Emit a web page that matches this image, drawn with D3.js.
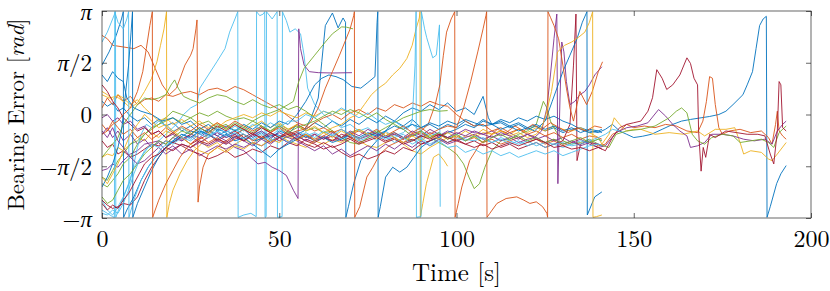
<!DOCTYPE html>
<html>
<head>
<meta charset="utf-8">
<script src="https://cdn.jsdelivr.net/npm/d3@7"></script>
<style>
  body { margin: 0; background: #fff; }
  svg text { font-family: "Latin Modern Roman", "CMU Serif", "Liberation Serif", serif; fill: #000; }
</style>
</head>
<body>
<script>
// Bearing error of every run, [time s, error rad]. Wraps at +-pi show as vertical jumps.
const run00 = [[0,0.4],[1.5,0.25],[3,0.35],[4.5,0.1],[6,0.2],[8,-0.05],[10,-0.2],[12,-0.1],[14,-0.3],[16,-0.15],[18,-0.35],[20,-0.25],[22.5,-0.5],[25,-0.35],[27.5,-0.55],[30,-0.45],[32.5,-0.65],[35,-0.5],[37.5,-0.6],[40,-0.45],[42.5,-0.7],[45,-0.55],[47.5,-0.75],[50,-0.5],[52.5,-0.6],[55,-0.3],[57.5,-0.45],[60,-0.25],[62.5,-0.4],[65,-0.2],[67.5,-0.35],[70,-0.15],[72.5,-0.3],[75,-0.1],[77.5,-0.25],[80,-0.05],[82.5,-0.2],[85,-0.35],[87.5,-0.15],[90,-0.4],[92.5,-0.3],[95,-0.45],[97.5,-0.3],[100,-0.4],[102.5,-0.2],[105,-0.35],[107.5,-0.15],[110,-0.3],[112.5,-0.25],[115,-0.4],[117.5,-0.3],[120,-0.45],[122.5,-0.35],[125,-0.5],[127.5,-0.4],[130,-0.55],[132.5,-0.45],[135,-0.4],[137.5,-0.5],[140,-0.55],[142,-0.45],[144,-0.3],[146,-0.5],[148,-0.6],[150,-0.7],[152.5,-0.66],[155,-0.6],[158,-0.45],[161,-0.3],[163.5,-0.2],[166,-0.15],[169,-0.1],[171.4,-0.06],[174,0.0],[176,0.1],[178,0.3],[180.8,0.6],[182,0.9],[183.5,1.3],[184.5,2.0],[185.5,2.7],[186.5,2.9],[187.4,2.98],[187.6,-3.12],[188.5,-2.8],[190.3,-2.1],[191.5,-1.8],[193,-1.55]];
const run01 = [[0,0.2],[1.5,0.5],[3,0.3],[4.5,0.6],[6,0.4],[8,0.55],[10,0.3],[12,0.45],[14,0.5],[16,0.4],[18,0.6],[20,0.55],[22.5,0.65],[25,0.7],[27.5,0.6],[30,0.75],[32.5,0.8],[35,0.7],[37.5,0.85],[40,0.75],[42.5,0.6],[45,0.45],[47.5,0.3],[50,0.15],[52.5,-0.05],[55,-0.25],[57.5,-0.35],[60,-0.5],[62.5,-0.4],[65,-0.55],[67.5,-0.45],[70,-0.6],[72.5,-0.5],[75,-0.65],[77.5,-0.55],[80,-0.7],[82.5,-0.6],[85,-0.75],[87.5,-0.65],[90,-0.55],[92.5,-0.7],[95,-0.6],[97.5,-0.75],[100,-0.65],[102.5,-0.8],[105,-0.7],[107.5,-0.85],[110,-0.75],[112.5,-0.9],[115,-0.8],[117.5,-0.7],[120,-0.85],[122.5,-0.75],[125,-0.9],[127.5,-0.8],[130,-0.95],[132.5,-0.85],[135,-0.9],[137.5,-0.8],[140,-0.95],[142,-0.9],[144,-0.6],[146,-0.5],[148,-0.3],[150,-0.4],[153,-0.35],[156,-0.4],[159,-0.3],[162,-0.35],[165,-0.5],[168,-0.55],[169.5,-0.2],[170.5,0.4],[171.4,1.15],[172.2,1.1],[173,0.3],[174,-0.4],[175,-0.6],[177,-0.5],[180,-0.45],[183,-0.55],[186,-0.5],[188,-0.7],[189,-0.9],[190,-0.3],[190.5,0.1],[191,-0.5],[192,-0.65],[193,-0.75]];
const run02 = [[0,-1.3],[1.5,-1.2],[3,-1.25],[4.5,-1.0],[6,-1.1],[8,-0.9],[10,-0.7],[12,-0.8],[14,-0.55],[16,-0.7],[18,-0.5],[20,-0.6],[22.5,-0.4],[25,-0.55],[27.5,-0.8],[30,-1.0],[32.5,-0.85],[35,-1.1],[37.5,-0.9],[40,-0.75],[42.5,-0.9],[45,-0.7],[47.5,-0.85],[50,-0.65],[52.5,-0.8],[55,-0.9],[57.5,-1.0],[60,-0.8],[62.5,-0.9],[65,-0.75],[67.5,-0.85],[70,-0.7],[72.5,-0.8],[75,-0.95],[77.5,-1.0],[80,-0.85],[82.5,-0.7],[85,-0.9],[87.5,-1.1],[90,-1.2],[92.5,-1.0],[95,-0.85],[97.5,-0.7],[100,-0.8],[102.5,-0.65],[105,-0.7],[107.5,-0.55],[110,-0.6],[112.5,-0.5],[115,-0.6],[117.5,-0.45],[120,-0.55],[122.5,-0.4],[125,-0.5],[127.5,-0.35],[130,-0.45],[132.5,-0.5],[135,-0.4],[137.5,-0.55],[140,-0.7],[141,-0.9],[143,-0.6],[144.5,-0.1],[146,-0.3],[148,-0.5],[150,-0.45],[152,-0.45],[156,-0.6],[160,-0.55],[164,-0.6],[168,-0.5],[170,-0.65],[173,-0.45],[176,-0.45],[178.5,-0.4],[180,-0.85],[181,-1.2],[183,-1.1],[186,-1.15],[188,-1.35],[189,-1.4],[190.5,-1.2],[193,-0.85]];
const run03 = [[0,-0.6],[1.5,-0.4],[3,-0.7],[4.5,-0.5],[6,-0.8],[8,-0.6],[10,-0.9],[12,-0.75],[14,-1.0],[16,-0.85],[18,-1.1],[20,-0.95],[22.5,-1.2],[25,-1.05],[27.5,-1.25],[30,-1.1],[32.5,-0.95],[35,-1.05],[37.5,-0.9],[40,-1.0],[42.5,-0.85],[45,-0.95],[47.5,-0.8],[50,-0.7],[52.5,-0.85],[55,-0.7],[57.5,-0.6],[60,-0.75],[62.5,-0.65],[65,-0.8],[67.5,-0.7],[70,-0.6],[72.5,-0.75],[75,-0.65],[77.5,-0.55],[80,-0.7],[82.5,-0.6],[85,-0.75],[87.5,-0.6],[90,-0.7],[92.5,-0.55],[95,-0.65],[97.5,-0.5],[100,-0.6],[102.5,-0.45],[105,-0.55],[107.5,-0.6],[110,-0.5],[112.5,-0.65],[115,-0.55],[117.5,-0.7],[120,-0.6],[122.5,-0.75],[125,-0.65],[127.5,-0.8],[130,-0.7],[132.5,-0.85],[135,-0.75],[137.5,-0.9],[140,-1.0],[142,-0.95],[145,-0.55],[148,-0.4],[151,-0.35],[154,-0.25],[157,0.15],[159,-0.05],[161,-0.3],[163,-0.5],[165,-0.65],[166,-1.0],[168,-0.95],[170,-0.85],[172,-0.6],[175,-0.6],[178,-0.65],[181,-0.75],[184,-0.8],[187,-0.75],[189,-0.9],[190.5,-0.5],[192,-0.3],[193,-0.2]];
const run04 = [[0,-1.9],[1.5,-2.0],[3,-1.7],[4.5,-1.4],[6,-1.2],[8,-0.9],[10,-0.8],[12,-0.6],[14,-0.45],[16,-0.3],[18,-0.2],[20,-0.1],[22.5,-0.25],[25,-0.1],[27.5,-0.3],[30,-0.2],[32.5,-0.4],[35,-0.3],[37.5,-0.5],[40,-0.4],[42.5,-0.55],[45,-0.35],[47.5,-0.5],[50,-0.3],[52.5,-0.45],[55,-0.35],[57.5,-0.5],[60,-0.4],[62.5,-0.55],[65,-0.5],[67.5,-0.7],[70,-0.55],[72.5,-0.45],[75,-0.6],[77.5,-0.5],[80,-0.65],[82.5,-0.55],[85,-0.7],[87.5,-0.8],[90,-0.65],[92.5,-0.7],[95,-0.85],[97.5,-1.0],[100,-1.2],[102,-1.5],[103.5,-1.9],[105,-2.25],[106.5,-2.1],[108,-1.6],[110,-1.1],[112.5,-0.8],[115,-0.75],[117.5,-0.6],[120,-0.5],[122.5,-0.3],[124.5,0.4],[125.5,0.2],[126.5,-0.2],[128,-0.5],[130,-0.8],[132.5,-0.9],[135,-0.85],[137.5,-0.75],[140,-0.9],[143,-1.0],[145,-0.6],[148,-0.5],[152,-0.45],[156,-0.35],[160,-0.1],[162,0.1],[163.5,0.2],[165,0.05],[166.5,-0.6],[168,-0.8],[170,-0.9],[172,-0.7],[175,-0.6],[178,-0.65],[180,-0.85],[183,-0.8],[186,-0.75],[188,-0.85],[189.5,-1.0],[191,-0.55],[193,-0.35]];
const run05 = [[0,-2.6],[1.5,-2.9],[3,-3.05],[4.5,-2.8],[6,-2.5],[7.5,-2.1],[9,-1.6],[11,-1.3],[13,-1.0],[15,-0.9],[17,-0.7],[19,-0.5],[21,-0.3],[23,0.0],[25,0.2],[26.8,0.3],[27.6,0.8],[30,1.2],[32.4,1.6],[34.7,2.0],[36,2.5],[37.5,2.9],[38.3,3.12],[38.4,-3.12],[40,-3.05],[42,-3.0],[43.5,-3.1],[43.6,3.12],[44.5,3.0],[45.5,3.05],[45.9,3.12],[46,-3.12],[46.3,-3.1],[46.4,3.12],[48,2.9],[49.4,3.12],[49.5,-3.12],[50.8,-3.1],[50.9,3.12],[52,2.85],[53,2.5],[54.5,2.6],[56,2.45],[57,1.8],[58,0.8],[60,0.3],[62.5,0.0],[65,-0.2],[67.5,-0.4],[70,-0.3],[72.5,-0.5],[75,-0.4],[77.5,-0.6],[80,-0.5],[82.5,-0.7],[85,-0.6],[87.5,-0.8],[90,-0.7],[92.5,-0.9],[95,-0.75],[97.5,-0.85],[100,-0.7],[102.5,-0.8],[105,-0.65],[107.5,-0.75],[110,-0.85],[112.5,-0.7],[115,-0.8],[117.5,-0.9],[120,-0.8],[122.5,-0.95],[125,-0.85],[127.5,-0.9],[130,-1.0],[132.5,-0.9],[135,-0.8],[137.5,-0.85],[140,-0.75],[141,-0.8]];
const run06 = [[0,-0.8],[1.5,-1.0],[3,-0.9],[4.5,-1.2],[6,-1.1],[8,-1.3],[10,-1.2],[12,-1.05],[14,-0.9],[16,-0.95],[18,-0.8],[20,-0.85],[22.5,-0.7],[25,-0.9],[27.5,-0.75],[30,-0.6],[32.5,-0.8],[35,-0.65],[37.5,-0.5],[40,-0.7],[42.5,-0.55],[45,-0.75],[47.5,-0.6],[50,-0.8],[52.5,-0.65],[55,-0.55],[57.5,-0.7],[60,-0.6],[62.5,-0.75],[65,-0.65],[67.5,-0.8],[70,-0.7],[72.5,-0.85],[75,-0.75],[77.5,-0.65],[80,-0.8],[82.5,-0.7],[85,-0.85],[87.5,-0.75],[90,-0.9],[92.5,-0.8],[95,-0.7],[97.5,-0.85],[100,-0.75],[102.5,-0.9],[105,-0.8],[107.5,-0.95],[110,-0.85],[112.5,-1.0],[115,-0.9],[117.5,-1.05],[120,-0.95],[122.5,-0.85],[125,-1.0],[127.5,-0.9],[130,-0.8],[132,-0.3],[133,1.5],[133.7,3.05],[134,-1.4],[135,-0.9],[137,-0.8],[139,-0.95],[140,-1.0],[142,-1.1],[144,-0.7],[146,-0.4],[148,-0.3],[150,-0.25],[152,-0.2],[154,0.1],[155.3,0.51],[156.5,1.36],[158,1.1],[159.3,0.76],[161,0.9],[163,1.2],[165,1.72],[166,1.55],[167,1.1],[168,0.9],[168.3,-0.5],[169,-1.72],[169.6,-1.0],[170.3,-1.3],[171.4,-0.6],[173,-0.7],[176,-0.5],[179,-0.55],[182,-0.6],[185,-0.6],[187,-0.65],[188.5,-1.2],[189.5,-1.5],[190.5,-0.5],[191,1.0],[191.5,0.9],[192,-0.4],[193,-0.5]];
const run07 = [[0,1.5],[2,1.9],[4,2.4],[5.5,2.9],[6,3.12],[6.1,-3.12],[7,-2.9],[9,-2.5],[11,-2.0],[13,-1.6],[15,-1.3],[17,-1.1],[19,-0.9],[22,-0.7],[25,-0.5],[28,-0.6],[31,-0.4],[34,-0.5],[37,-0.7],[40,-0.6],[43,-0.8],[46,-0.7],[49,-0.6],[52,-0.7],[55,-0.6],[57,-0.5],[59,-0.1],[61,0.5],[62,1.6],[63,2.7],[65,3.08],[66.6,2.63],[68,2.93],[68.7,2.8],[68.8,-3.12],[69.5,-2.8],[71,-2.1],[73,-1.4],[75,-1.1],[77.5,-0.8],[80,-0.5],[82.5,-0.2],[85,0.05],[87.5,0.2],[90,0.1],[92.5,0.3],[95,0.15],[97.5,0.35],[100,0.1],[102.5,0.2],[105,0.0],[107.5,0.55],[109,-0.1],[110,-0.3],[112.5,-0.2],[115,-0.35],[117.5,-0.25],[120,-0.4],[122.5,-0.3],[125,-0.45],[127.5,-0.35],[130,-0.5],[132.5,-0.4],[135,-0.55],[137.5,-0.45],[140,-0.5],[141,-0.55]];
const run08 = [[0,2.4],[1.5,2.3],[3,2.1],[6,2.05],[9,2.0],[11,2.1],[13,1.9],[15,1.4],[17,0.9],[19,0.6],[21,0.8],[23.4,1.5],[25,1.8],[25.7,2.0],[26.5,2.6],[26.8,2.87],[27.1,-2.66],[27.5,-2.2],[28.5,-1.6],[30,-1.2],[32.5,-1.0],[35,-0.8],[37.5,-0.6],[40,-0.45],[42.5,-0.6],[45,-0.4],[47.5,-0.55],[50,-0.35],[52.5,-0.5],[55,-0.3],[57.5,-0.45],[60,-0.25],[62.5,-0.1],[65,0.0],[67.5,-0.15],[70,0.05],[72.5,0.15],[75,0.0],[77.5,0.2],[80,0.1],[82.5,0.3],[85,0.2],[87.5,0.35],[90,0.25],[92.5,0.4],[95,0.3],[97.5,0.25],[100,0.0],[102.5,-0.2],[105,-0.35],[107.5,-0.3],[110,-0.5],[112.5,-0.4],[115,-0.55],[117.5,-0.45],[120,-0.6],[122.5,-0.5],[125,-0.65],[127.5,-0.55],[130,-0.7],[132.5,-0.6],[135,-0.75],[137.5,-0.65],[140,-0.7],[141,-0.75]];
const run09 = [[0,0.7],[1.5,0.6],[3,0.45],[4.5,0.6],[6,0.5],[8,0.3],[10,0.45],[12,0.2],[14,0.0],[16,-0.2],[18,-0.1],[20,-0.3],[22.5,-0.15],[25,-0.35],[27.5,-0.2],[30,-0.4],[32.5,-0.25],[35,-0.45],[37.5,-0.3],[40,-0.5],[42.5,-0.35],[45,-0.2],[47.5,-0.4],[50,-0.25],[52.5,-0.45],[55,-0.3],[57.5,-0.5],[60,-0.35],[62.5,-0.55],[65,-0.4],[67.5,-0.3],[70,-0.1],[72,0.0],[74,0.3],[76,0.6],[78,0.8],[80,0.95],[82,1.2],[84,1.4],[86,1.7],[87.5,2.1],[88.6,2.6],[89.5,2.93],[89.7,3.12],[89.8,-3.12],[90.5,-2.7],[91.5,-2.1],[93.5,-1.3],[95,-1.2],[96.5,-1.4],[97.5,-1.57]];
const run10 = [[0,-1.7],[1.5,-1.65],[3,-1.5],[4.5,-1.6],[6,-1.4],[8,-1.2],[10,-1.1],[12,-0.9],[14,-0.85],[16,-0.8],[18,-0.9],[20,-0.7],[22.5,-0.8],[25,-0.6],[27.5,-0.7],[30,-0.5],[32.5,-0.65],[35,-0.8],[37.5,-1.0],[40,-1.1],[42,-1.3],[44,-1.5],[46,-1.45],[48,-1.6],[50,-1.7],[52,-1.85],[54,-2.3],[55.3,-2.55],[55.5,2.6],[56,2.0],[57,1.5],[58.5,1.3],[61,1.27],[65,1.26],[70.5,1.27]];
const run11 = [[0,-2.1],[1.5,-2.2],[3,-2.0],[4.5,-1.8],[6,-1.5],[8,-1.3],[10,-0.9],[12,-0.6],[14,-0.4],[16,-0.3],[18,-0.1],[20,0.1],[22.5,0.0],[25,-0.1],[27.5,0.05],[30,-0.05],[32.5,0.1],[35,-0.05],[37.5,-0.15],[40,-0.1],[42.5,-0.2],[45,-0.05],[47.5,0.05],[50,0.15],[52.5,0.3],[54,0.4],[55.5,1.0],[57,1.4],[60,1.8],[63,2.2],[65,2.45],[67.6,2.66],[69,2.65],[70.8,2.6]];
const run12 = [[0,2.2],[1.5,2.5],[3,2.9],[3.8,3.12],[3.9,-3.12],[5,-2.8],[6.5,-2.4],[8,-2.0],[9,-1.5],[10,-1.0],[11,-0.6],[12.5,-0.3],[14,-0.4],[16,-0.2],[18,-0.35],[20,-0.5],[22.5,-0.4],[25,-0.6],[27.5,-0.45],[30,-0.65],[32.5,-0.5],[35,-0.7],[37.5,-0.55],[40,-0.75],[42.5,-0.6],[45,-0.5],[47.5,-0.65],[50,-0.45],[52.5,-0.6],[55,-0.5],[57.5,-0.65],[60,-0.55],[62.5,-0.7],[65,-0.6],[67.5,-0.75],[70,-0.65],[72.5,-0.8],[75,-0.7],[77.5,-0.6],[80,-0.75],[82.5,-0.65],[85,-0.55],[86.5,-0.4],[87.5,-0.2],[88.3,1.5],[88.6,3.12],[88.7,-3.12],[90,-3.1],[90.1,3.12],[91,2.6],[91.6,2.33],[93.3,1.72],[94.3,1.8],[95.2,2.72],[95.4,-2.8]];
const run13 = [[0,-2.6],[1.5,-2.75],[3,-2.85],[4.5,-2.8],[6,-2.7],[8,-2.75],[10,-2.5],[12,-2.0],[14,-1.6],[16,-1.3],[18,-1.0],[20,-0.85],[22.5,-0.95],[25,-1.1],[27.5,-1.2],[30,-1.35],[32.5,-1.25],[35,-1.1],[37.5,-1.3],[40,-1.2],[42.5,-1.05],[45,-1.15],[47.5,-0.95],[50,-1.05],[52.5,-0.85],[55,-0.95],[57.5,-0.75],[60,-0.85],[62.5,-0.7],[65,-0.8],[67.5,-0.6],[70.7,-0.7]];
const run14 = [[0,1.2],[1.5,1.0],[3,1.3],[4.5,1.1],[6,1.0],[7,0.5],[9,0.2],[11,0.1],[14,0.0],[17,-0.2],[20,-0.1],[22.5,-0.3],[25,-0.2],[27.5,-0.45],[30,-0.3],[32.5,-0.5],[35,-0.35],[37.5,-0.5],[40,-0.3],[42.5,-0.45],[45,-0.25],[47.5,-0.4],[50,-0.2],[52.5,-0.3],[55,0.0],[57.5,0.4],[60,0.9],[62,1.1],[64,1.2],[66,1.15],[68,1.06],[70.5,0.85],[73,0.8],[75,0.97],[77,1.15],[77.6,2.8],[77.8,3.12],[77.9,-3.12],[78.5,-2.8],[80,-1.9],[82,-1.6],[84,-1.75],[86,-1.6],[88,-1.3],[90,-1.0],[92.5,-0.8],[95,-0.7],[97.5,-0.55],[100,-0.45],[102.5,-0.3],[105,-0.4],[107.5,-0.2],[110,-0.3],[112.5,-0.15],[115,-0.25],[117.5,-0.1],[120,-0.2],[122.5,-0.05],[125,-0.15],[127.5,-0.05],[130,-0.2],[132.5,-0.3],[135,-0.45],[137.5,-0.55],[140,-0.5],[141,-0.45]];
const run15 = [[0,-0.3],[1.5,-0.5],[3,-0.2],[4.5,-0.4],[6,-0.6],[8,-0.45],[10,-0.7],[12,-0.55],[14,-0.75],[16,-0.6],[18,-0.4],[20,-0.55],[22.5,-0.35],[25,-0.5],[27.5,-0.3],[30,-0.45],[32.5,-0.25],[35,-0.4],[37.5,-0.2],[40,-0.35],[42.5,-0.5],[45,-0.35],[47.5,-0.55],[50,-0.4],[52.5,-0.6],[55,-0.5],[57,-0.45],[59,-0.2],[61,0.2],[63,0.8],[65,1.3],[67,1.8],[68.5,2.2],[70,2.6],[71,3.0],[71.2,3.12],[71.3,-3.12],[72.7,-2.8],[74.7,-1.9],[76.4,-1.6],[78.4,-1.2],[81,-0.95],[84,-0.8],[87,-0.6],[90,-0.5],[92,-0.3],[94,0.3],[95.3,0.9],[96.3,1.8],[97.2,2.5],[98.5,2.9],[99.5,3.12],[99.6,-3.12],[100.5,-2.7],[101.5,-2.2],[103.7,-1.4],[106.6,-0.9],[109,-0.7],[111.5,-0.45],[114,-0.55],[116.5,-0.35],[119,-0.5],[121.5,-0.3],[124,-0.45],[126.5,-0.25],[129,-0.4],[131.5,-0.55],[134,-0.4],[136.5,-0.5],[139,-0.35],[141,-0.4]];
const run16 = [[0,0.6],[2,0.5],[4,0.55],[6,0.4],[8,0.2],[10,0.35],[12,0.7],[14,1.1],[15.5,1.6],[16.5,2.1],[17.5,2.6],[18.2,3.12],[18.3,-3.12],[19,-2.7],[20,-2.3],[22,-1.8],[24,-1.4],[26,-1.1],[28,-0.9],[30,-0.6],[32.5,-0.4],[35,-0.2],[37.5,-0.1],[40,0.0],[42.5,-0.1],[45,0.05],[47.5,-0.05],[50,0.1],[52.5,0.0],[55,-0.1],[57.5,0.05],[60,-0.05],[62.5,0.1],[65,0.0],[67.5,0.15],[70.7,0.05]];
const run17 = [[0,-0.1],[1.5,0.0],[3,-0.2],[4.5,-0.1],[6,-0.3],[8,-0.2],[10,-0.45],[12,-0.35],[14,-0.6],[16,-0.5],[18,-0.7],[20,-0.6],[22.5,-0.8],[25,-0.65],[27.5,-0.85],[30,-0.7],[32.5,-0.55],[35,-0.7],[37.5,-0.6],[40,-0.8],[42.5,-0.65],[45,-0.5],[47.5,-0.7],[50,-0.55],[52.5,-0.7],[55,-0.8],[57.5,-0.95],[60,-1.1],[62.5,-0.95],[65,-1.2],[67.5,-1.05],[70,-1.25],[72.5,-1.1],[75,-0.95],[77.5,-1.1],[80,-0.9],[82.5,-1.05],[85,-0.85],[87.5,-1.0],[90,-0.8],[92.5,-0.95],[95,-0.75],[97.5,-0.9],[100,-0.8],[102.5,-0.7],[105,-0.6],[107.5,-0.75],[110,-0.65],[112.5,-0.8],[115,-0.7],[117.5,-0.85],[120,-0.75],[122,-0.7],[124,-0.5],[125.5,0.2],[126.5,1.2],[127.5,2.3],[128.3,3.05],[128.6,-2.1],[129.2,0.5],[129.7,2.2],[130.3,1.9],[131,1.0],[132,0.3],[133.4,0.4],[134.8,0.6],[136.2,0.7],[137.5,0.9],[139,1.2],[141,1.45]];
const run18 = [[0,-1.3],[1.5,-1.1],[3,-0.9],[4.5,-0.7],[6,-0.3],[8,0.0],[10,0.3],[12,0.5],[14,0.45],[16,0.5],[18,0.6],[19.5,0.9],[20.5,1.05],[21.5,0.8],[23,0.55],[25,0.45],[27.5,0.35],[30,0.5],[32.5,0.6],[35,0.55],[37.5,0.4],[40,0.3],[42.5,0.45],[45,0.3],[47.5,0.2],[50,0.3],[52.5,0.15],[55,0.25],[57.5,0.1],[60,-0.1],[62.5,-0.3],[65,-0.5],[67.5,-0.7],[70,-0.85],[72.5,-0.9],[75,-0.7],[77.5,-0.55],[80,-0.4],[82.5,-0.25],[85,-0.1],[87.5,0.0],[90,0.1],[92.5,0.15],[95,0.1],[97.5,0.12]];
const run19 = [[0,-2.9],[1.5,-3.0],[3,-3.1],[3.5,-3.12],[3.6,3.12],[4.5,2.8],[6,2.6],[7,2.9],[7.5,3.12],[7.6,-3.12],[9,-2.6],[11,-2.0],[13,-1.6],[15,-1.3],[17,-1.0],[20,-0.8],[22.5,-0.6],[25,-0.75],[27.5,-0.5],[30,-0.65],[32.5,-0.4],[35,-0.55],[37.5,-0.35],[40,-0.5],[42.5,-0.3],[45,-0.45],[47.5,-0.25],[50,-0.4],[52.5,-0.2],[55,-0.2],[57.5,0.0],[60,-0.1],[62.5,0.1],[65,0.0],[67.5,0.2],[70,0.05],[72.5,-0.1],[75,0.05],[77.5,-0.15],[80,-0.3],[82.5,-0.2],[85,-0.4],[87.5,-0.3],[90,-0.5],[92.5,-0.65],[95,-0.55],[97.5,-0.7],[100,-0.6],[102.5,-0.75],[105,-0.8],[107.5,-0.7],[110,-0.85],[112.5,-0.75],[115,-0.9],[117.5,-0.8],[120,-0.95],[122.5,-0.85],[125,-1.0],[127.5,-0.9],[130,-0.85],[132.5,-0.95],[135,-0.9],[137.5,-0.8],[140,-0.7],[142,-0.6],[144,-0.45],[146,-0.5]];
const run20 = [[0,0.9],[1.5,0.7],[3,0.4],[4.5,0.2],[6,-0.1],[8,-0.3],[10,-0.5],[12,-0.4],[14,-0.6],[16,-0.5],[18,-0.7],[20,-0.55],[22.5,-0.75],[25,-0.6],[27.5,-0.4],[30,-0.55],[32.5,-0.35],[35,-0.5],[37.5,-0.3],[40,-0.45],[42.5,-0.6],[45,-0.4],[47.5,-0.55],[50,-0.7],[52.5,-0.5],[55,-0.65],[57.5,-0.8],[60,-0.9],[62.5,-1.05],[65,-0.95],[67.5,-1.15],[70,-1.3],[72.5,-1.2],[75,-1.35],[77.5,-1.25],[80,-1.1],[82.5,-1.2],[85,-1.0],[87.5,-1.1],[90,-0.9],[92.5,-0.8],[95,-0.65],[97.5,-0.55]];
const run21 = [[0,-2.2],[1.5,-1.9],[3,-1.5],[4.5,-1.0],[5.5,-0.5],[6.5,0.5],[7.5,1.5],[8.2,2.5],[8.6,3.12],[8.7,-3.12],[10,-2.7],[12,-2.2],[14,-1.7],[16,-1.3],[18,-1.0],[20,-0.8],[22.5,-0.6],[25,-0.7],[27.5,-0.5],[30,-0.6],[32.5,-0.75],[35,-0.6],[37.5,-0.8],[40,-0.7],[42.5,-0.9],[45,-1.1],[47.5,-1.3],[50,-1.05],[52.5,-0.9],[55,-0.75],[57.5,-0.65],[60,-0.8],[62.5,-0.7],[65,-0.85],[67.5,-0.75],[70,-0.6],[72.5,-0.7],[75,-0.55],[77.5,-0.65],[80,-0.5],[82.5,-0.35],[85,-0.45],[87.5,-0.3],[90,-0.4],[92.5,-0.25],[95,-0.35],[97.5,-0.2],[100,-0.3],[102.5,-0.15],[105,-0.25],[107.5,-0.35],[110,-0.3],[112.5,-0.45],[115,-0.35],[117.5,-0.5],[120,-0.4],[122,-0.5],[125,-0.2],[127,0.4],[130,1.3],[132,1.8],[134,2.3],[135.5,2.8],[136.8,3.12],[136.9,-3.05],[139,-2.5],[141,-2.35]];
const run22 = [[0,-0.6],[1.5,-0.5],[3,-0.3],[4.5,-0.2],[6,0.0],[8,0.2],[10,0.7],[11.5,1.3],[12.5,2.0],[13.5,2.7],[14.2,3.12],[14.3,-3.12],[15,-2.9],[16,-2.6],[18,-2.1],[20,-1.7],[22,-1.3],[24,-1.0],[26,-0.8],[28,-0.7],[30,-0.85],[32.5,-0.7],[35,-0.9],[37.5,-0.75],[40,-0.6],[42.5,-0.8],[45,-0.65],[47.5,-0.85],[50,-0.7],[52.5,-0.55],[55,-0.75],[57.5,-0.6],[60,-0.8],[62.5,-0.65],[65,-0.5],[67.5,-0.7],[70,-0.55],[72.5,-0.75],[75,-0.6],[77.5,-0.45],[80,-0.65],[82.5,-0.5],[85,-0.35],[87.5,-0.55],[90,-0.4],[92.5,-0.6],[95,-0.45],[97.5,-0.35],[100,-0.4],[102,0.2],[104,1.0],[106,1.9],[107.5,2.6],[108.3,3.0],[108.5,3.12],[108.6,-3.12],[109.4,-3.0],[111.4,-2.7],[114,-2.55],[117,-2.5],[119,-2.6],[120.7,-2.7],[122.5,-2.65],[124.3,-2.8],[125.5,-3.0],[125.7,-3.12],[125.8,3.12],[126.5,2.95],[127.5,2.7],[128.8,2.3],[130,1.5],[131,0.8],[132,0.2],[133,-0.2],[134,0.3],[134.8,0.7],[136.7,0.3],[138.3,0.7],[140,1.3],[141.2,1.6]];
const run23 = [[0,-1.9],[1.5,-2.1],[3,-1.8],[4.5,-1.5],[6,-1.1],[8,-0.6],[10,-0.3],[12,0.0],[14,-0.2],[16,-0.4],[18,-0.3],[20,-0.5],[22.5,-0.7],[25,-0.9],[27.5,-1.1],[30,-1.2],[32.5,-1.0],[35,-1.15],[37.5,-0.95],[40,-1.05],[42.5,-0.85],[45,-0.95],[47.5,-0.75],[50,-0.85],[52.5,-0.65],[55,-0.8],[57.5,-0.6],[60,-0.75],[62.5,-0.55],[65,-0.7],[67.5,-0.5],[70,-0.65],[72.5,-0.45],[75,-0.6],[77.5,-0.75],[80,-0.55],[82.5,-0.7],[85,-0.85],[87.5,-0.65],[90,-0.8],[92.5,-0.6],[95,-0.75],[97.5,-0.55],[100,-0.7],[102.5,-0.5],[105,-0.65],[107.5,-0.45],[110,-0.6],[112.5,-0.5],[115,-0.65],[117.5,-0.55],[120,-0.7],[122.5,-0.6],[124,-0.4],[125,-0.1],[126.8,0.7],[128.5,1.9],[130.5,2.1],[132.5,2.2],[134.5,2.35],[136.2,2.5],[137.5,2.8],[138.4,3.12],[138.5,-3.12],[139.5,-3.1],[141,-3.05]];
const run24 = [[0,-0.5],[1.5,-0.7],[3,-0.4],[4.5,-0.8],[6,-1.0],[8,-1.3],[10,-1.5],[12,-1.4],[14,-1.2],[16,-1.0],[18,-1.2],[20,-1.05],[22.5,-0.9],[25,-1.0],[27.5,-0.85],[30,-0.95],[32.5,-0.8],[35,-0.9],[37.5,-0.7],[40,-0.8],[42.5,-0.95],[45,-0.75],[47.5,-0.9],[50,-0.7],[52.5,-0.85],[55,-0.65],[57.5,-0.8],[60,-0.6],[62.5,-0.75],[65,-0.55],[67.5,-0.7],[70,-0.5],[72.5,-0.65],[75,-0.45],[77.5,-0.6],[80,-0.7],[82.5,-0.55],[85,-0.7],[87.5,-0.5],[90,-0.65],[92.5,-0.45],[95,-0.6],[97.5,-0.7],[100,-0.55],[102.5,-0.65],[105,-0.5],[107.5,-0.6],[110,-0.7],[112.5,-0.55],[115,-0.65],[117.5,-0.75],[120,-0.6],[122.5,-0.7],[125,-0.85],[127.5,-0.75],[130,-0.9],[132.5,-0.8],[135,-0.95],[137.5,-0.85],[140,-0.9],[141,-0.95]];
const run25 = [[0,-2.5],[1.5,-2.7],[3,-2.6],[4.5,-2.3],[6,-2.0],[8,-1.8],[10,-1.5],[12,-1.2],[14,-1.0],[16,-0.8],[18,-0.9],[20,-0.7],[22.5,-0.5],[25,-0.6],[27.5,-0.4],[30,-0.55],[32.5,-0.3],[35,-0.45],[37.5,-0.25],[40,-0.4],[42.5,-0.2],[45,-0.35],[47.5,-0.5],[50,-0.35],[52.5,-0.55],[55,-0.4],[57.5,-0.3],[60,-0.2],[62.5,-0.05],[65,0.1],[67.5,0.0],[70,0.15],[72.5,0.05],[75,-0.1],[77.5,0.05],[80,-0.15],[82.5,-0.3],[85,-0.45],[87.5,-0.65],[90,-0.5],[92.5,-0.7],[95,-0.55],[97.5,-0.75],[100,-0.6],[102.5,-0.8],[105,-0.65],[107.5,-0.85],[110,-0.7],[112.5,-0.6],[115,-0.75],[117.5,-0.65],[120,-0.8],[122.5,-0.7],[125,-0.85],[127.5,-0.75],[130,-0.9],[132.5,-0.8],[135,-0.7],[137.5,-0.85],[140,-0.75],[141,-0.8]];
const run26 = [[0,-3.0],[1.5,-3.05],[3,-2.9],[4.5,-3.0],[6,-2.7],[7.5,-2.3],[9,-1.8],[10.5,-1.4],[12,-1.1],[14,-0.9],[16,-1.0],[18,-0.8],[20,-0.9],[22.5,-0.7],[25,-0.8],[27.5,-0.6],[30,-0.7],[32.5,-0.5],[35,-0.65],[37.5,-0.45],[40,-0.6],[42.5,-0.75],[45,-0.6],[47.5,-0.8],[50,-0.65],[52.5,-0.85],[55,-0.7],[57.5,-0.55],[60,-0.7],[62.5,-0.5],[65,-0.65],[67.5,-0.45],[70,-0.6],[72.5,-0.75],[75,-0.6],[77.5,-0.8],[80,-0.65],[82.5,-0.85],[85,-0.7],[87.5,-0.9],[90,-0.75],[92.5,-0.95],[95,-0.8],[97.5,-1.0],[100,-0.95],[102.5,-1.15],[105,-1.05],[107.5,-1.2],[110,-1.1],[112.5,-1.25],[115,-1.15],[117.5,-1.3],[120,-1.2],[122.5,-1.1],[125,-1.2],[127.5,-1.1],[130,-1.25],[132.5,-1.15],[135,-1.05],[137.5,-0.95],[140,-0.9],[141,-0.95]];
const run27 = [[0,-2.7],[1.5,-2.9],[3,-2.75],[4.5,-2.85],[6,-2.6],[7.5,-2.4],[9,-2.1],[10.5,-1.8],[12,-1.5],[14,-1.3],[16,-1.2],[18,-1.0],[20,-1.1],[22.5,-0.9],[25,-1.0],[27.5,-0.8],[30,-0.9],[32.5,-0.75],[35,-0.85],[37.5,-0.65],[40,-0.8],[42.5,-0.6],[45,-0.7],[47.5,-0.55],[50,-0.7],[52.5,-0.6],[55,-0.75],[57.5,-0.9],[60,-1.0],[62.5,-0.85],[65,-1.0],[67.5,-0.9],[70,-0.75],[72.5,-0.9],[75,-0.8],[77.5,-0.7],[80,-0.85],[82.5,-0.75],[85,-0.9],[87.5,-0.8],[90,-0.65],[92.5,-0.75],[95,-0.6],[97.5,-0.7],[100,-0.8],[102.5,-0.9],[105,-1.0],[107.5,-0.9],[110,-1.05],[112.5,-0.95],[115,-0.85],[117.5,-0.95],[120,-0.85],[122.5,-0.75],[125,-0.85],[127.5,-1.0],[130,-0.95],[132.5,-1.05],[135,-1.0],[137.5,-1.1],[140,-1.0],[141,-1.05]];

const runs = [run00, run01, run02, run03, run04, run05, run06, run07, run08, run09,
  run10, run11, run12, run13, run14, run15, run16, run17, run18, run19,
  run20, run21, run22, run23, run24, run25, run26, run27];

const xTicks = [0, 50, 100, 150, 200];
const yTicks = [-Math.PI, -Math.PI / 2, 0, Math.PI / 2, Math.PI];
const yTickLabels = ["−π", "−π/2", "0", "π/2", "π"];

// MATLAB default line colour order
const palette = ["#0072BD", "#D95319", "#EDB120", "#7E2F8E", "#77AC30", "#4DBEEE", "#A2142F"];

const width = 830, height = 291;
const margin = { left: 102, right: 19, top: 11, bottom: 73 };

const svg = d3.select("body").append("svg")
  .attr("width", width)
  .attr("height", height);

const x = d3.scaleLinear().domain([0, 200]).range([margin.left, width - margin.right]);
const y = d3.scaleLinear().domain([-Math.PI, Math.PI]).range([height - margin.bottom, margin.top]);

svg.append("clipPath").attr("id", "plot")
  .append("rect")
  .attr("x", x(0)).attr("y", y(Math.PI))
  .attr("width", x(200) - x(0)).attr("height", y(-Math.PI) - y(Math.PI));

const line = d3.line().x(d => x(d[0])).y(d => y(d[1]));

svg.append("g").attr("clip-path", "url(#plot)")
  .selectAll("path")
  .data(runs)
  .enter()
  .append("path")
  .attr("d", line)
  .attr("fill", "none")
  .attr("stroke", (d, i) => palette[i % palette.length])
  .attr("stroke-width", 0.9)
  .attr("stroke-linejoin", "round");

// axes: box with inward ticks on all four sides
const axisColor = "#262626";
const tick = 5;

function styleAxis(g) {
  g.attr("font-family", null);
  g.select(".domain").remove();
  g.selectAll(".tick line").attr("stroke", axisColor).attr("stroke-width", 0.7);
}

svg.append("g")
  .attr("transform", `translate(0,${y(-Math.PI)})`)
  .call(d3.axisBottom(x).tickValues(xTicks).tickSize(-tick).tickPadding(10).tickFormat(d3.format("d")))
  .call(styleAxis)
  .call(g => g.selectAll("text").attr("font-size", 24).attr("fill", "#000").attr("dy", "0.8em"));

svg.append("g")
  .attr("transform", `translate(0,${y(Math.PI)})`)
  .call(d3.axisTop(x).tickValues(xTicks).tickSize(-tick).tickFormat(""))
  .call(styleAxis);

svg.append("g")
  .attr("transform", `translate(${x(0)},0)`)
  .call(d3.axisLeft(y).tickValues(yTicks).tickSize(-tick).tickPadding(10).tickFormat((d, i) => yTickLabels[i]))
  .call(styleAxis)
  .call(g => g.selectAll("text").each(function (d, i) {
    const t = d3.select(this).text("").attr("font-size", 23).attr("fill", "#000").attr("dy", "0.35em");
    for (const ch of yTickLabels[i]) {
      t.append("tspan").text(ch).attr("font-style", ch === "π" ? "italic" : null);
    }
  }));

svg.append("g")
  .attr("transform", `translate(${x(200)},0)`)
  .call(d3.axisRight(y).tickValues(yTicks).tickSize(-tick).tickFormat(""))
  .call(styleAxis);

svg.append("rect")
  .attr("x", x(0)).attr("y", y(Math.PI))
  .attr("width", x(200) - x(0)).attr("height", y(-Math.PI) - y(Math.PI))
  .attr("fill", "none")
  .attr("stroke", axisColor)
  .attr("stroke-width", 0.7);

// axis titles
svg.append("text")
  .attr("x", (x(0) + x(200)) / 2)
  .attr("y", 281)
  .attr("text-anchor", "middle")
  .attr("font-size", 25)
  .text("Time [s]");

const yTitle = svg.append("text")
  .attr("transform", `translate(24,${(y(Math.PI) + y(-Math.PI)) / 2}) rotate(-90)`)
  .attr("text-anchor", "middle")
  .attr("font-size", 23);
yTitle.append("tspan").text("Bearing Error [");
yTitle.append("tspan").text("rad").attr("font-style", "italic");
yTitle.append("tspan").text("]");
</script>
</body>
</html>
